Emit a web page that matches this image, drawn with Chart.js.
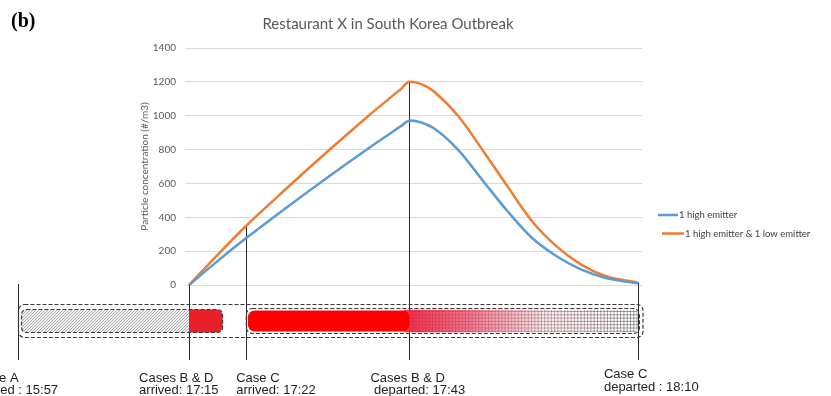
<!DOCTYPE html>
<html><head><meta charset="utf-8">
<script src="https://cdn.jsdelivr.net/npm/chart.js@4/dist/chart.umd.min.js"></script>
<style>html,body{margin:0;padding:0;background:#fff}#wrap{width:831px;height:396px;position:relative}</style>
</head><body><div id="wrap"><canvas id="c" width="831" height="396"></canvas></div>
<script>
// ---- data (minutes after 17:15) ----
const minutes        = [0, 3, 7, 12, 17, 22, 25, 26, 27, 28, 29, 30, 33, 36, 39, 42, 45, 48, 51, 55];
const highEmitter    = [0, 122, 277, 460, 637, 808, 907, 940, 972, 966, 950, 926, 797, 616, 437, 279, 171, 92, 43, 10];
const highLowEmitter = [0, 153, 350, 573, 790, 1000, 1120, 1160, 1200, 1194, 1175, 1143, 997, 795, 584, 378, 230, 122, 53, 14];
const seriesNames = ['1 high emitter', '1 high emitter & 1 low emitter'];
const yTicks = [0, 200, 400, 600, 800, 1000, 1200, 1400];
const chartTitle = 'Restaurant X in South Korea Outbreak';
const yTitle = 'Particle concentration (#/m3)';
const panelLabel = '(b)';
// events on the time axis
const eventMinutes = [0, 7, 27, 55];
const eventLabels = [['Cases B & D', 'arrived: 17:15'], ['Case C', 'arrived: 17:22'], ['Cases B & D', ' departed: 17:43'], ['Case C', 'departed : 18:10']];
const caseALabel = ['Case A', 'arrived : 15:57'];
// schematic timeline spans (minutes)
const red1Span = [0, 4.1];
const red2Span = [7.2, 27];
const fadeSpan = [27, 55];

const BLUE = '#5b9bd5', ORANGE = '#ed7d31';

function rr(ctx, x, y, w, h, r) { ctx.beginPath(); ctx.roundRect(x, y, w, h, r); }

const overlay = {
  id: 'overlay',
  beforeDatasetsDraw(chart) {
    const ctx = chart.ctx, xs = chart.scales.x, ys = chart.scales.y;
    ctx.save();
    ctx.strokeStyle = '#2a2a2a'; ctx.lineWidth = 1;
    eventMinutes.forEach(m => {
      const i = minutes.indexOf(m);
      const v = Math.max(highEmitter[i], highLowEmitter[i]);
      const x = Math.round(xs.getPixelForValue(m)) + 0.5;
      ctx.beginPath(); ctx.moveTo(x, ys.getPixelForValue(v)); ctx.lineTo(x, 360); ctx.stroke();
    });
    ctx.restore();
  },
  afterDraw(chart) {
    const ctx = chart.ctx, xs = chart.scales.x;
    const px = m => xs.getPixelForValue(m);
    ctx.save();
    // Case A line
    const xA = 18.5;
    ctx.strokeStyle = '#2a2a2a'; ctx.lineWidth = 1;
    ctx.beginPath(); ctx.moveTo(xA, 284); ctx.lineTo(xA, 360); ctx.stroke();

    // gray hatched part
    const top = 309.5, h = 23;
    const gx0 = 21.5, gx1 = px(red1Span[0]);
    ctx.save();
    rr(ctx, gx0, top, gx1 - gx0 + 6, h, 5); ctx.clip();
    ctx.fillStyle = '#f2f2f2'; ctx.fillRect(gx0, top, gx1 - gx0, h);
    ctx.strokeStyle = 'rgba(120,120,120,0.75)'; ctx.lineWidth = 0.8;
    for (let x = gx0 - h; x < gx1; x += 3) { ctx.beginPath(); ctx.moveTo(x, top + h); ctx.lineTo(x + h, top); ctx.stroke(); }
    ctx.restore();
    // red box 1
    const r1a = px(red1Span[0]), r1b = px(red1Span[1]);
    ctx.fillStyle = '#e8202a';
    ctx.beginPath(); ctx.roundRect(r1a, top, r1b - r1a, h, [0, 6, 6, 0]); ctx.fill();
    ctx.setLineDash([4, 2]); ctx.strokeStyle = '#3a3a3a'; ctx.lineWidth = 1.2;
    rr(ctx, gx0, top, r1b - gx0, h, 5); ctx.stroke();
    ctx.setLineDash([]);

    // fade part with grid hatch
    const fa = px(fadeSpan[0]), fb = px(fadeSpan[1]);
    const g = ctx.createLinearGradient(fa, 0, fb, 0);
    g.addColorStop(0, 'rgb(242,50,78)');
    g.addColorStop(0.25, 'rgb(247,115,138)');
    g.addColorStop(0.6, 'rgb(254,238,241)');
    g.addColorStop(1, '#ffffff');
    const gl = ctx.createLinearGradient(fa, 0, fb, 0);
    gl.addColorStop(0, 'rgba(150,20,40,0.25)');
    gl.addColorStop(0.4, 'rgba(90,40,50,0.35)');
    gl.addColorStop(1, 'rgba(40,40,40,0.55)');
    ctx.save();
    ctx.beginPath(); ctx.roundRect(fa - 6, top, fb - fa + 6, h, [0, 5, 5, 0]); ctx.clip();
    ctx.fillStyle = g; ctx.fillRect(fa - 6, top, fb - fa + 6, h);
    ctx.strokeStyle = gl; ctx.lineWidth = 0.8;
    for (let x = fa; x < fb; x += 3.3) { ctx.beginPath(); ctx.moveTo(x, top); ctx.lineTo(x, top + h); ctx.stroke(); }
    for (let y = top + 2; y < top + h; y += 3.3) { ctx.beginPath(); ctx.moveTo(fa, y); ctx.lineTo(fb, y); ctx.stroke(); }
    ctx.restore();
    // red box 2
    const r2a = px(red2Span[0]), r2b = px(red2Span[1]);
    ctx.fillStyle = '#ff0000';
    rr(ctx, r2a, top + 1, r2b - r2a, h - 2, 7); ctx.fill();
    ctx.setLineDash([4, 2]); ctx.strokeStyle = '#3a3a3a'; ctx.lineWidth = 1.2;
    rr(ctx, r2a - 1.5, top - 1, fb - r2a + 3, h + 2, 6); ctx.stroke();
    // outer dashed box
    rr(ctx, 18.5, 304.5, 624.5, 33, 6); ctx.stroke();
    ctx.setLineDash([]);

    // event labels
    ctx.fillStyle = '#1e1e1e';
    ctx.font = '13px "Liberation Sans", Arial, sans-serif';
    ctx.textAlign = 'left'; ctx.textBaseline = 'alphabetic';
    const offs = [-50, -10, -39, -34];
    const base = [[382, 394], [382, 394], [382, 394], [377.5, 391]];
    eventMinutes.forEach((m, i) => {
      const x = px(m) + offs[i];
      ctx.fillText(eventLabels[i][0], x, base[i][0]);
      ctx.fillText(eventLabels[i][1], x, base[i][1]);
    });
    ctx.fillText(caseALabel[0], -24, 382);
    ctx.fillText(caseALabel[1], -25, 394);

    // title
    ctx.fillStyle = '#595959';
    ctx.font = '15px Lato, "Open Sans", sans-serif';
    ctx.textAlign = 'center';
    ctx.fillText(chartTitle, 388, 29);

    // panel label
    ctx.fillStyle = '#000';
    ctx.font = 'bold 20px "Liberation Serif", "Times New Roman", serif';
    ctx.textAlign = 'left';
    ctx.fillText(panelLabel, 11, 27);

    // legend
    const leg = [[658, 678, 215], [662, 684, 233.5]];
    ctx.font = '9.5px Lato, "Open Sans", sans-serif';
    ctx.textBaseline = 'middle';
    chart.data.datasets.forEach((ds, i) => {
      const [x0, x1, y] = leg[i];
      ctx.strokeStyle = ds.borderColor; ctx.lineWidth = 2.5;
      ctx.beginPath(); ctx.moveTo(x0, y); ctx.lineTo(x1, y); ctx.stroke();
      ctx.fillStyle = '#404040';
      ctx.fillText(ds.label, x1 + 1, y);
    });
    ctx.restore();
  }
};

new Chart(document.getElementById('c'), {
  type: 'line',
  data: {
    datasets: [
      { label: seriesNames[0], data: minutes.map((m, i) => ({ x: m, y: highEmitter[i] })), borderColor: BLUE, backgroundColor: BLUE },
      { label: seriesNames[1], data: minutes.map((m, i) => ({ x: m, y: highLowEmitter[i] })), borderColor: ORANGE, backgroundColor: ORANGE }
    ]
  },
  options: {
    responsive: false,
    animation: false,
    layout: { padding: { left: 139, right: 189, top: 48, bottom: 111 } },
    elements: {
      line: { borderWidth: 2.5, tension: 0.4, cubicInterpolationMode: 'monotone' },
      point: { radius: 0, hoverRadius: 0 }
    },
    plugins: { legend: { display: false }, title: { display: false }, tooltip: { enabled: false } },
    scales: {
      x: { type: 'linear', min: -0.5, max: 55.5, display: false },
      y: {
        min: 0, max: 1400,
        afterFit: s => { s.width = 46; },
        afterBuildTicks: s => { s.ticks = yTicks.map(v => ({ value: v })); },
        grid: { color: '#d9d9d9', lineWidth: 1, drawTicks: false },
        border: { display: false },
        ticks: { padding: 9, color: '#595959', font: { family: 'Lato', size: 10 }, callback: v => String(v) },
        title: { display: true, text: yTitle, color: '#595959', font: { family: 'Lato', size: 10 }, padding: 0 }
      }
    }
  },
  plugins: [overlay]
});
</script></body></html>
